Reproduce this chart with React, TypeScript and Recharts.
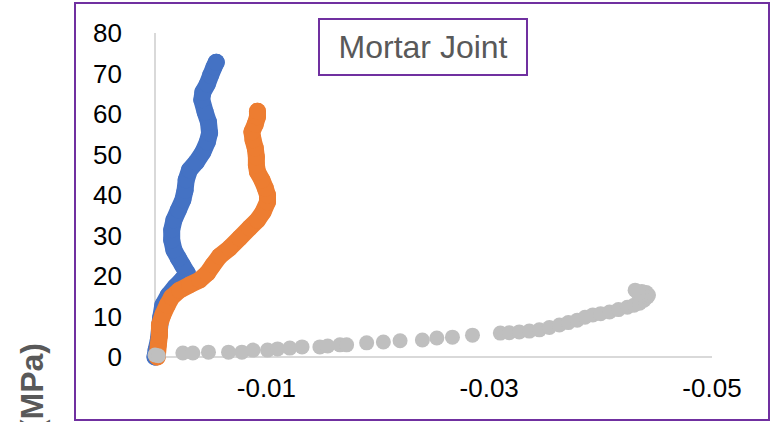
import React from "react"
import { ScatterChart, Scatter, XAxis, YAxis } from "recharts"

// ── Data (strain, stress) ─────────────────────────────────────────────────────

const X_TICKS = [-0.05, -0.03, -0.01]
const Y_TICKS = [0, 10, 20, 30, 40, 50, 60, 70, 80]

const blueStrain = [
  0, -0.0001, -0.0003, -0.0004, -0.0005, -0.0007, -0.0012, -0.0018, -0.0024, -0.0029,
  -0.0025, -0.0021, -0.0017, -0.0015, -0.0015, -0.0017, -0.0021, -0.0025, -0.0027, -0.0028,
  -0.0031, -0.0037, -0.0043, -0.0047, -0.0049, -0.0048, -0.0045, -0.0042, -0.0043, -0.0047,
  -0.005, -0.0053, -0.0055,
]
const blueStress = [
  0, 1.7, 4.2, 6.7, 9.6, 12.8, 15.3, 17.3, 19, 20.7,
  22.5, 24.4, 26.4, 28.9, 31.4, 33.8, 36.3, 38.8, 41.2, 43.7,
  46.2, 48.1, 50.6, 53.1, 55.3, 58, 60.5, 63.5, 65.4, 67.4,
  69.6, 71.6, 72.8,
]

const orangeStrain = [
  -0.0002, -0.0003, -0.0004, -0.0004, -0.0007, -0.0011, -0.0015, -0.0022, -0.0031, -0.004,
  -0.0047, -0.0052, -0.0058, -0.0067, -0.0076, -0.0085, -0.0092, -0.0097, -0.0101, -0.0101,
  -0.0099, -0.0096, -0.0092, -0.0091, -0.0091, -0.009, -0.0088, -0.0087, -0.009, -0.0092,
  -0.0092,
]
const orangeStress = [
  0, 3, 5.4, 7.9, 10.4, 12.8, 14.8, 16.5, 17.8, 19,
  20.7, 22.7, 24.9, 26.9, 29.4, 31.9, 33.8, 35.8, 38.3, 40,
  41.7, 43.7, 45.7, 47.4, 49.4, 51.6, 53.6, 55.6, 57.5, 59.3,
  60.7,
]

const grayStrain = [
  0, -0.0003, -0.0025, -0.0034, -0.0048, -0.0066, -0.0078, -0.0088, -0.0101, -0.011,
  -0.0121, -0.0132, -0.0148, -0.0155, -0.0166, -0.0172, -0.019, -0.0205, -0.022, -0.024,
  -0.0253, -0.0267, -0.0285, -0.031, -0.0318, -0.0327, -0.0336, -0.0345, -0.0354, -0.0363,
  -0.0371, -0.0379, -0.0386, -0.0393, -0.04, -0.0408, -0.0416, -0.0424, -0.043, -0.0435,
  -0.0439, -0.0442, -0.0443, -0.0441, -0.0437, -0.0434, -0.0431,
]
const grayStress = [
  0.5, 0.3, 1, 1, 1.2, 1.2, 1.2, 1.7, 1.7, 2,
  2.2, 2.5, 2.5, 2.7, 3, 3, 3.5, 3.7, 4, 4.2,
  4.7, 4.9, 5.4, 5.9, 6, 6.2, 6.4, 6.7, 7.3, 7.9,
  8.5, 9.1, 9.8, 10.4, 10.7, 11.1, 11.7, 12.3, 12.8, 13.3,
  14, 14.8, 15.3, 15.9, 16.2, 15.6, 16.5,
]

const BLUE = "#4472C4"
const ORANGE = "#ED7D31"
const GRAY = "#BFBFBF"
const PURPLE = "#7030A0"
const FONT = "'Liberation Sans', Arial, sans-serif"

const zip = (xs: number[], ys: number[]) => xs.map((x, i) => ({ x, y: ys[i] }))

const blueData = zip(blueStrain, blueStress)
const orangeData = zip(orangeStrain, orangeStress)
const grayData = zip(grayStrain, grayStress)

const dot = (color: string, r: number) => (p: { cx?: number; cy?: number }) =>
  <circle cx={p.cx} cy={p.cy} r={r} fill={color} />

export default function App() {
  return (
    <div style={{ position: "absolute", left: 0, top: 0, width: 771, height: 422, background: "#fff", fontFamily: FONT }}>
      <ScatterChart width={771} height={422} margin={{ top: 33, right: 59, bottom: 0, left: 75 }}>
        <XAxis
          type="number"
          dataKey="x"
          domain={[-0.05, 0]}
          ticks={X_TICKS}
          reversed
          height={65}
          axisLine={{ stroke: "#D9D9D9", strokeWidth: 2 }}
          tickLine={false}
          tickSize={0}
          tickMargin={22}
          tickFormatter={(v: number) => v.toFixed(2)}
          tick={{ fontSize: 26, fill: "#000", fontFamily: FONT }}
        />
        <YAxis
          type="number"
          dataKey="y"
          domain={[0, 80]}
          ticks={Y_TICKS}
          width={80}
          axisLine={{ stroke: "#D9D9D9", strokeWidth: 2 }}
          tickLine={false}
          tickSize={0}
          tickMargin={33}
          tick={{ fontSize: 26, fill: "#000", fontFamily: FONT }}
        />
        <Scatter
          data={blueData}
          fill={BLUE}
          isAnimationActive={false}
          shape={dot(BLUE, 8.5)}
          line={{ stroke: BLUE, strokeWidth: 17, strokeLinejoin: "round", strokeLinecap: "round" }}
        />
        <Scatter
          data={orangeData}
          fill={ORANGE}
          isAnimationActive={false}
          shape={dot(ORANGE, 8.5)}
          line={{ stroke: ORANGE, strokeWidth: 17, strokeLinejoin: "round", strokeLinecap: "round" }}
        />
        <Scatter data={grayData} fill={GRAY} isAnimationActive={false} shape={dot(GRAY, 7.5)} />
      </ScatterChart>

      {/* outer frame */}
      <div style={{ position: "absolute", left: 74, top: 2, width: 692, height: 415, border: `2px solid ${PURPLE}`, pointerEvents: "none" }} />

      {/* title box */}
      <div
        style={{
          position: "absolute", left: 318, top: 18, width: 206, height: 54,
          border: `2px solid ${PURPLE}`, background: "#fff",
          display: "flex", alignItems: "center", justifyContent: "center",
          fontSize: 32, color: "#595959",
        }}
      >
        Mortar Joint
      </div>

      {/* y axis title, cut by the left edge as in the reference */}
      <svg width={74} height={422} style={{ position: "absolute", left: 0, top: 0 }}>
        <text
          x={43}
          y={343}
          transform="rotate(-90 43 343)"
          textAnchor="end"
          fontSize={32}
          fontWeight="bold"
          fill="#595959"
          fontFamily={FONT}
        >
          Stress (MPa)
        </text>
      </svg>
    </div>
  )
}
